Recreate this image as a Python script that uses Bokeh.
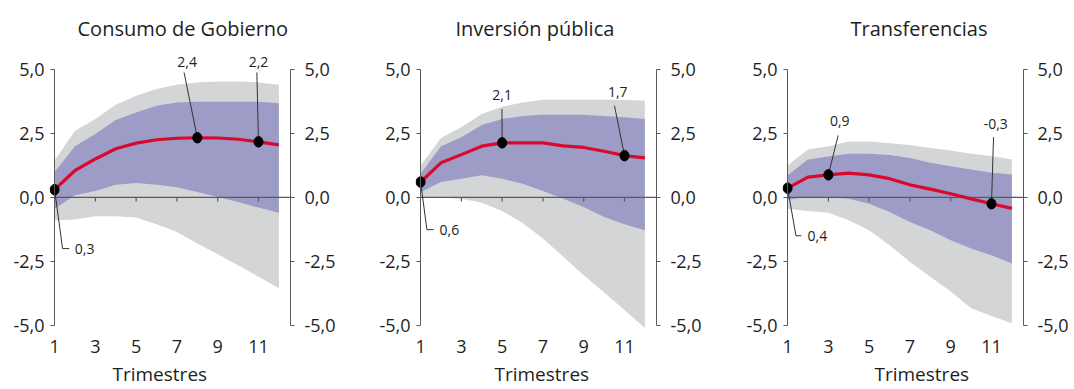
from bokeh.plotting import figure
from bokeh.models import LinearAxis, FixedTicker, Range1d, Label, Title, CustomJSTickFormatter
from bokeh.layouts import row
from bokeh.embed import file_html
from bokeh.resources import INLINE

# ---------------- data ----------------
quarters = [1, 2, 3, 4, 5, 6, 7, 8, 9, 10, 11, 12]
x_ticks = [1, 3, 5, 7, 9, 11]
y_ticks = [-5.0, -2.5, 0.0, 2.5, 5.0]
panel_titles = ["Consumo de Gobierno", "Inversión pública", "Transferencias"]
x_axis_title = "Trimestres"

consumo_median = [0.30, 1.05, 1.50, 1.90, 2.12, 2.25, 2.31, 2.33, 2.32, 2.27, 2.17, 2.05]
consumo_outer_hi = [1.44, 2.60, 3.06, 3.62, 3.97, 4.23, 4.40, 4.49, 4.53, 4.53, 4.49, 4.40]
consumo_inner_hi = [0.99, 2.00, 2.48, 3.02, 3.32, 3.58, 3.71, 3.74, 3.74, 3.74, 3.74, 3.68]
consumo_inner_lo = [-0.44, 0.08, 0.25, 0.49, 0.56, 0.49, 0.40, 0.21, 0.01, -0.18, -0.40, -0.60]
consumo_outer_lo = [-0.90, -0.86, -0.74, -0.74, -0.79, -1.05, -1.35, -1.80, -2.22, -2.65, -3.10, -3.55]
consumo_marked = [1, 8, 11]
consumo_marked_labels = ["0,3", "2,4", "2,2"]

inversion_median = [0.60, 1.35, 1.67, 2.00, 2.13, 2.13, 2.13, 2.01, 1.95, 1.80, 1.63, 1.54]
inversion_outer_hi = [1.25, 2.32, 2.74, 3.26, 3.54, 3.71, 3.81, 3.81, 3.81, 3.81, 3.81, 3.77]
inversion_inner_hi = [0.92, 2.00, 2.35, 2.83, 3.06, 3.18, 3.23, 3.23, 3.23, 3.18, 3.13, 3.06]
inversion_inner_lo = [0.20, 0.60, 0.73, 0.86, 0.73, 0.53, 0.25, -0.05, -0.38, -0.77, -1.05, -1.28]
inversion_outer_lo = [0.00, 0.00, -0.05, -0.21, -0.53, -1.00, -1.61, -2.32, -3.04, -3.72, -4.40, -5.10]
inversion_marked = [1, 5, 11]
inversion_marked_labels = ["0,6", "2,1", "1,7"]

transfer_median = [0.36, 0.79, 0.88, 0.95, 0.88, 0.73, 0.49, 0.32, 0.14, -0.06, -0.25, -0.43]
transfer_outer_hi = [1.25, 1.87, 2.00, 2.18, 2.18, 2.11, 2.05, 1.93, 1.83, 1.70, 1.62, 1.48]
transfer_inner_hi = [0.86, 1.48, 1.60, 1.70, 1.70, 1.66, 1.54, 1.35, 1.22, 1.09, 0.96, 0.89]
transfer_inner_lo = [-0.09, 0.01, 0.01, -0.05, -0.25, -0.57, -0.96, -1.28, -1.67, -2.00, -2.26, -2.58]
transfer_outer_lo = [-0.44, -0.53, -0.60, -0.89, -1.28, -1.87, -2.52, -3.10, -3.68, -4.33, -4.63, -4.92]
transfer_marked = [1, 3, 11]
transfer_marked_labels = ["0,4", "0,9", "-0,3"]

# ---------------- style / layout ----------------
FONT = "Open Sans"
TEXT = "#1e1e1e"
AXIS = "#5a5a5a"
GRAY = "#d4d5d7"
PURPLE = "#9d9cc6"
RED = "#d9092e"
X_START, X_END = 0.75, 12.57
Y_START, Y_END = -5.2, 5.62
FIG_H = 389
FRAME_W = 241
LEFT_B = 49
TOP_B = 52
BOTTOM_B = 59
TICK_DY = 0.16

# leader paths (offsets from the marked point) and text offsets, per marked label
label_layouts = [
    [([(0, 0), (0.39, -2.30), (0.72, -2.30)], (0.99, -2.30), "left"),
     ([(0, 0), (-0.65, 2.55)], (-0.50, 2.94), "center"),
     ([(0, 0), (-0.08, 2.71)], (0.00, 3.10), "center")],
    [([(0, 0), (0.31, -1.86), (0.64, -1.86)], (0.93, -1.86), "left"),
     ([(0, 0), (-0.01, 1.32)], (0.00, 1.87), "center"),
     ([(0, 0), (-0.49, 1.95)], (-0.33, 2.47), "center")],
    [([(0, 0), (0.41, -1.86), (0.68, -1.86)], (0.98, -1.86), "left"),
     ([(0, 0), (0.48, 1.54)], (0.56, 2.09), "center"),
     ([(0, 0), (0.10, 2.60)], (0.21, 3.12), "center")],
]
title_offsets = [28, 40, 68]
xlabel_offsets = [63, 79, 92]
fig_widths = [366, 367, 341]

fmt = CustomJSTickFormatter(code="return tick.toFixed(1).replace('.', ',');")
blank_fmt = CustomJSTickFormatter(code="return '';")


def style_y_axis(ax, standoff, show_line=True):
    ax.bounds = (-5, 5)
    ax.ticker = FixedTicker(ticks=y_ticks)
    ax.minor_tick_line_color = None
    ax.major_label_text_font = FONT
    ax.major_label_text_font_size = "18px"
    ax.major_label_text_color = TEXT
    ax.major_label_standoff = standoff
    if show_line:
        ax.axis_line_color = AXIS
        ax.major_tick_line_color = AXIS
        ax.major_tick_out = 4
        ax.major_tick_in = 0
    else:
        ax.axis_line_color = None
        ax.major_tick_line_color = None
        ax.major_tick_out = 0
        ax.major_tick_in = 0


def make_panel(i, median, o_lo, o_hi, i_lo, i_hi, marked_x, marked_labels):
    width = fig_widths[i]
    p = figure(width=width, height=FIG_H, output_backend="svg", toolbar_location=None,
               x_range=Range1d(X_START, X_END), y_range=Range1d(Y_START, Y_END),
               x_axis_type=None, y_axis_type=None,
               min_border_left=LEFT_B, min_border_right=width - LEFT_B - FRAME_W,
               min_border_top=TOP_B, min_border_bottom=BOTTOM_B)
    p.outline_line_color = None
    p.background_fill_color = "white"
    p.border_fill_color = "white"

    p.varea(x=quarters, y1=o_lo, y2=o_hi, fill_color=GRAY)
    p.varea(x=quarters, y1=i_lo, y2=i_hi, fill_color=PURPLE)

    # zero line with its tick marks
    p.segment(x0=[x_ticks[0]], y0=[0], x1=[X_END], y1=[0], line_color=AXIS, line_width=1.2)
    inner_ticks = x_ticks[1:]
    p.segment(x0=inner_ticks, y0=[0] * len(inner_ticks), x1=inner_ticks,
              y1=[-TICK_DY] * len(inner_ticks), line_color=AXIS, line_width=1.2)

    p.line(quarters, median, line_color=RED, line_width=3.2)

    mys = [median[quarters.index(mx)] for mx in marked_x]
    xs, ys, tx, ty, aligns = [], [], [], [], []
    for (path, toff, al), mx, my in zip(label_layouts[i], marked_x, mys):
        xs.append([mx + dx for dx, dy in path])
        ys.append([my + dy for dx, dy in path])
        tx.append(mx + toff[0])
        ty.append(my + toff[1])
        aligns.append(al)
    p.multi_line(xs=xs, ys=ys, line_color="#333333", line_width=1)
    p.ellipse(x=marked_x, y=mys, width=9, height=10.5, width_units="screen",
              height_units="screen", fill_color="black", line_color="black")
    for x_, y_, t_, a_ in zip(tx, ty, marked_labels, aligns):
        p.add_layout(Label(x=x_, y=y_, text=t_, text_align=a_, text_baseline="middle",
                           text_font=FONT, text_font_size="14px", text_color=TEXT))

    # left tick labels (at frame edge) + left axis line/ticks drawn at x = 1
    left_labels = LinearAxis(formatter=fmt)
    style_y_axis(left_labels, 5, show_line=False)
    p.add_layout(left_labels, "left")
    left_line = LinearAxis(fixed_location=x_ticks[0], formatter=blank_fmt)
    style_y_axis(left_line, 0, show_line=True)
    p.add_layout(left_line, "left")

    right = LinearAxis(formatter=fmt)
    style_y_axis(right, 10)
    p.add_layout(right, "right")

    bottom = LinearAxis(ticker=FixedTicker(ticks=x_ticks))
    bottom.axis_line_color = None
    bottom.major_tick_line_color = None
    bottom.minor_tick_line_color = None
    bottom.major_tick_out = 0
    bottom.major_tick_in = 0
    bottom.major_label_text_font = FONT
    bottom.major_label_text_font_size = "18px"
    bottom.major_label_text_color = TEXT
    bottom.major_label_standoff = 9
    p.add_layout(bottom, "below")

    p.title.text = panel_titles[i]
    p.title.align = "left"
    p.title.offset = title_offsets[i]
    p.title.standoff = 24
    p.title.text_font = FONT
    p.title.text_font_size = "20px"
    p.title.text_font_style = "normal"
    p.title.text_color = TEXT

    p.add_layout(Title(text=x_axis_title, align="left", offset=xlabel_offsets[i], standoff=6,
                       text_font=FONT, text_font_size="19px", text_font_style="normal",
                       text_color=TEXT), "below")
    return p


p1 = make_panel(0, consumo_median, consumo_outer_lo, consumo_outer_hi, consumo_inner_lo,
                consumo_inner_hi, consumo_marked, consumo_marked_labels)
p2 = make_panel(1, inversion_median, inversion_outer_lo, inversion_outer_hi, inversion_inner_lo,
                inversion_inner_hi, inversion_marked, inversion_marked_labels)
p3 = make_panel(2, transfer_median, transfer_outer_lo, transfer_outer_hi, transfer_inner_lo,
                transfer_inner_hi, transfer_marked, transfer_marked_labels)

layout = row(p1, p2, p3)
open("out.html", "w").write(file_html(layout, INLINE))
